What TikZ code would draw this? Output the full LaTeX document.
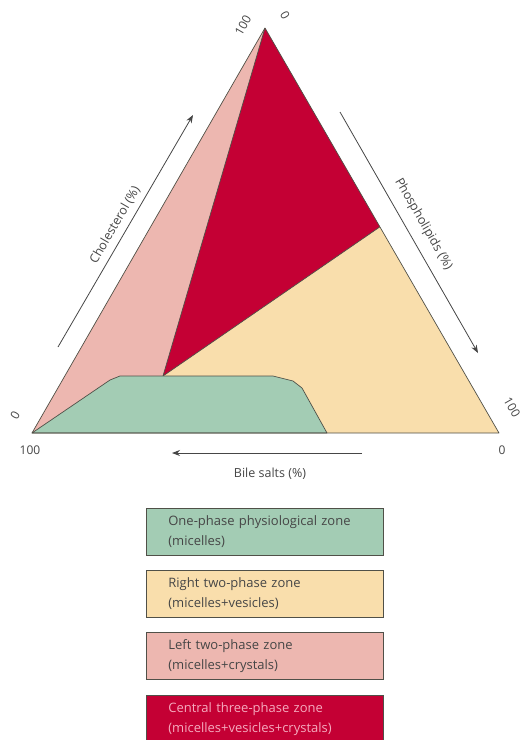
\documentclass[tikz,border=0pt]{standalone}
\usepackage{fontspec}
\setmainfont{Open Sans}
\usetikzlibrary{arrows.meta,calc,positioning}
\definecolor{onephase}{RGB}{163,204,180}
\definecolor{righttwo}{RGB}{249,222,172}
\definecolor{lefttwo}{RGB}{237,183,176}
\definecolor{central}{RGB}{196,0,52}
\definecolor{edgegrey}{RGB}{80,80,72}
\definecolor{labelgrey}{RGB}{70,70,70}
\definecolor{centraltext}{RGB}{245,170,190}
\tikzset{
  zone edge/.style={draw=edgegrey,line width=0.7pt,line join=round},
  axis arrow/.style={-{Stealth[length=8pt,width=6pt]},line width=0.8pt,draw=labelgrey},
  axis label/.style={font=\fontsize{12.5}{14}\selectfont,text=labelgrey,inner sep=1pt},
  tick label/.style={font=\fontsize{12}{13}\selectfont,text=labelgrey,inner sep=0pt},
  legend box/.style={
    draw=edgegrey,
    line width=0.7pt,
    minimum height=47pt,
    text width=193pt,
    inner xsep=22pt,
    align=left,
    font=\fontsize{13}{20}\selectfont,
    text=labelgrey
  }
}

\begin{document}
\begin{tikzpicture}[x=1pt,y=-1pt]
  \useasboundingbox (0,0) rectangle (523,740);
  \coordinate (top) at (265,28);
  \coordinate (bl) at (32,433);
  \coordinate (br) at (499,433);
  \coordinate (redright) at ($(top)!0.491!(br)$);
  \coordinate (redbottom) at (163,376);

  \fill[righttwo] (bl) -- (top) -- (br) -- cycle;
  \fill[lefttwo] (bl) -- (top) -- (redbottom) -- cycle;
  \fill[central] (top) -- (redright) -- (redbottom) -- cycle;
  \draw[zone edge] (top) -- (redbottom) (redright) -- (redbottom);
  \draw[zone edge,fill=onephase]
    (bl) -- (110,380) -- (120,376) -- (273,376) -- (293,381)
    -- (302,388) -- (327,433) -- cycle;
  \draw[zone edge] (bl) -- (top) -- (br) -- cycle;

  \coordinate (cholfrom) at (58,347);
  \coordinate (cholto) at (193,115);
  \coordinate (phosfrom) at (340,112);
  \coordinate (phosto) at (478,353);
  \coordinate (bilefrom) at (362,453);
  \coordinate (bileto) at (172,453);
  \draw[axis arrow] (cholfrom) --
    node[axis label,sloped,above=5pt] (chollabel) {Cholesterol (\%)} (cholto);
  \draw[axis arrow] (phosfrom) --
    node[axis label,sloped,above=9pt] (phoslabel) {Phospholipids (\%)} (phosto);
  \draw[axis arrow] (bilefrom) -- (bileto);
  \node[axis label] (bilelabel) at (270,474) {Bile salts (\%)};

  \node[tick label,rotate=60] (cholhundred) at (243,25) {100};
  \node[tick label,rotate=-60] (phoszero) at (285,15) {0};
  \node[tick label,rotate=60] (cholzero) at (15,415) {0};
  \node[tick label] (bilehundred) at (30,450) {100};
  \node[tick label] (bilezero) at (502,450) {0};
  \node[tick label,rotate=-60] (phoshundred) at (512,407) {100};

  \node[legend box,fill=onephase,anchor=north west] (onephasebox) at (146,508)
    {One-phase physiological zone\\(micelles)};
  \node[legend box,fill=righttwo,below=14pt of onephasebox] (righttwobox)
    {Right two-phase zone\\(micelles+vesicles)};
  \node[legend box,fill=lefttwo,below=15pt of righttwobox] (lefttwobox)
    {Left two-phase zone\\(micelles+crystals)};
  \node[legend box,fill=central,text=centraltext,below=15pt of lefttwobox] (centralbox)
    {Central three-phase zone\\(micelles+vesicles+crystals)};
\end{tikzpicture}
\end{document}
